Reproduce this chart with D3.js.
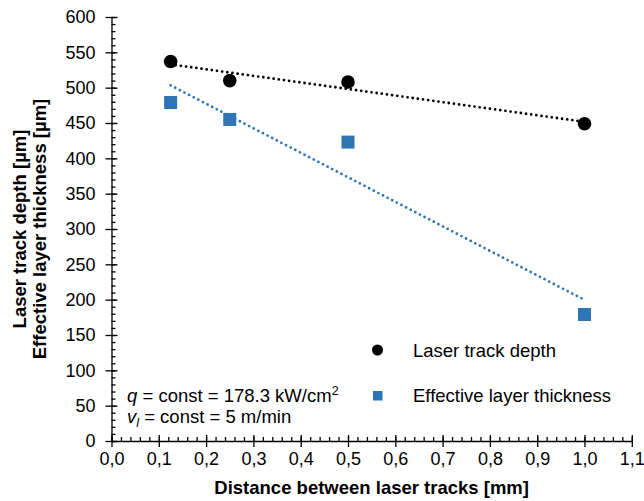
<!DOCTYPE html>
<html>
<head>
<meta charset="utf-8">
<script src="https://cdn.jsdelivr.net/npm/d3@7"></script>
<style>
  html, body { margin: 0; padding: 0; background: #fff; }
  svg { display: block; font-family: "Liberation Sans", Arial, sans-serif; }
</style>
</head>
<body>
<svg id="chart" width="644" height="501"></svg>
<script>
// Spacing between neighbouring laser tracks [mm]
const distances = [0.125, 0.25, 0.5, 1.0];
// Laser track depth [µm]
const trackDepth = [537, 510, 508, 449];
// Effective layer thickness [µm]
const layerThickness = [479, 455, 423, 179];

const seriesNames = ["Laser track depth", "Effective layer thickness"];
const xMajorTicks = [0, 0.1, 0.2, 0.3, 0.4, 0.5, 0.6, 0.7, 0.8, 0.9, 1.0, 1.1];
const xTickLabels = ["0,0", "0,1", "0,2", "0,3", "0,4", "0,5", "0,6", "0,7", "0,8", "0,9", "1,0", "1,1"];
const yMajorTicks = [0, 50, 100, 150, 200, 250, 300, 350, 400, 450, 500, 550, 600];

const blue = "#2E75B6";
const textSize = 18.5;
const tickSize = 18;

const svg = d3.select("#chart");

const x = d3.scaleLinear().domain([0, 1.1]).range([111.5, 631.8]);
const y = d3.scaleLinear().domain([0, 600]).range([441, 17]);

const xMinor = d3.range(0, 1.1001, 0.02).map(v => +v.toFixed(2));
const yMinor = d3.range(0, 600.1, 10);

// ---- Y axis ----
const gy = svg.append("g").attr("transform", `translate(${x(0)},0)`);
gy.call(d3.axisLeft(y).tickValues(yMajorTicks).tickSizeInner(6).tickSizeOuter(0).tickPadding(10));
gy.append("g").call(d3.axisRight(y).tickValues(yMinor).tickSize(4).tickFormat(""))
  .select(".domain").remove();
gy.append("g").call(d3.axisRight(y).tickValues(yMajorTicks).tickSize(6).tickFormat(""))
  .select(".domain").remove();

// ---- X axis ----
const gx = svg.append("g").attr("transform", `translate(0,${y(0)})`);
gx.call(d3.axisBottom(x).tickValues(xMajorTicks)
  .tickFormat((d, i) => xTickLabels[i]).tickSizeInner(6).tickSizeOuter(0).tickPadding(5));
gx.append("g").call(d3.axisTop(x).tickValues(xMinor).tickSize(4).tickFormat(""))
  .select(".domain").remove();
gx.append("g").call(d3.axisTop(x).tickValues(xMajorTicks).tickSize(6).tickFormat(""))
  .select(".domain").remove();

svg.selectAll(".tick text").attr("font-size", tickSize).attr("fill", "#000")
  .attr("font-family", "'Liberation Sans', Arial, sans-serif");
svg.selectAll(".domain, .tick line").attr("stroke", "#000").attr("stroke-width", 1.3);

// ---- Axis titles ----
svg.append("text")
  .attr("x", (x(0) + x(1.1)) / 2).attr("y", 494)
  .attr("text-anchor", "middle").attr("font-weight", "bold").attr("font-size", textSize)
  .text("Distance between laser tracks [mm]");

const yTitle = svg.append("text")
  .attr("transform", `translate(0,${(y(0) + y(600)) / 2}) rotate(-90)`)
  .attr("text-anchor", "middle").attr("font-weight", "bold").attr("font-size", textSize);
yTitle.append("tspan").attr("x", 0).attr("y", 26).text("Laser track depth [µm]");
yTitle.append("tspan").attr("x", 0).attr("y", 46).text("Effective layer thickness [µm]");

// ---- Linear trend lines (least squares) ----
function linearFit(xs, ys) {
  const mx = d3.mean(xs), my = d3.mean(ys);
  const sxy = d3.sum(xs, (v, i) => (v - mx) * (ys[i] - my));
  const sxx = d3.sum(xs, v => (v - mx) * (v - mx));
  const b = sxy / sxx;
  return v => my + b * (v - mx);
}
const xExtent = d3.extent(distances);
const line = d3.line().x(d => x(d[0])).y(d => y(d[1]));

[[trackDepth, "#000"], [layerThickness, blue]].forEach(([vals, col]) => {
  const f = linearFit(distances, vals);
  svg.append("path")
    .datum(xExtent.map(v => [v, f(v)]))
    .attr("d", line)
    .attr("fill", "none").attr("stroke", col)
    .attr("stroke-width", 2.8).attr("stroke-linecap", "round")
    .attr("stroke-dasharray", "0 5.2");
});

// ---- Markers ----
const sq = 13;
svg.append("g").selectAll("rect").data(distances).join("rect")
  .attr("x", (d) => x(d) - sq / 2)
  .attr("y", (d, i) => y(layerThickness[i]) - sq / 2)
  .attr("width", sq).attr("height", sq).attr("fill", blue);

svg.append("g").selectAll("circle").data(distances).join("circle")
  .attr("cx", d => x(d))
  .attr("cy", (d, i) => y(trackDepth[i]))
  .attr("r", 6.8).attr("fill", "#000");

// ---- Legend ----
const legend = svg.append("g");
legend.append("circle").attr("cx", 377.5).attr("cy", 350).attr("r", 5.5).attr("fill", "#000");
legend.append("rect").attr("x", 373).attr("y", 391).attr("width", 9.5).attr("height", 9.5).attr("fill", blue);
legend.append("text").attr("x", 413).attr("y", 357).attr("font-size", textSize).text(seriesNames[0]);
legend.append("text").attr("x", 413).attr("y", 402).attr("font-size", textSize).text(seriesNames[1]);

// ---- Process parameters ----
const note1 = svg.append("text").attr("x", 127).attr("y", 402).attr("font-size", textSize);
note1.append("tspan").attr("font-style", "italic").text("q");
note1.append("tspan").text(" = const = 178.3 kW/cm");
note1.append("tspan").attr("font-size", 12.5).attr("dy", -7).text("2");

const note2 = svg.append("text").attr("x", 127).attr("y", 423).attr("font-size", textSize);
note2.append("tspan").attr("font-style", "italic").text("v");
note2.append("tspan").attr("font-style", "italic").attr("font-size", 12.5).attr("dy", 4).text("l");
note2.append("tspan").attr("dy", -4).text(" = const = 5 m/min");
</script>
</body>
</html>
